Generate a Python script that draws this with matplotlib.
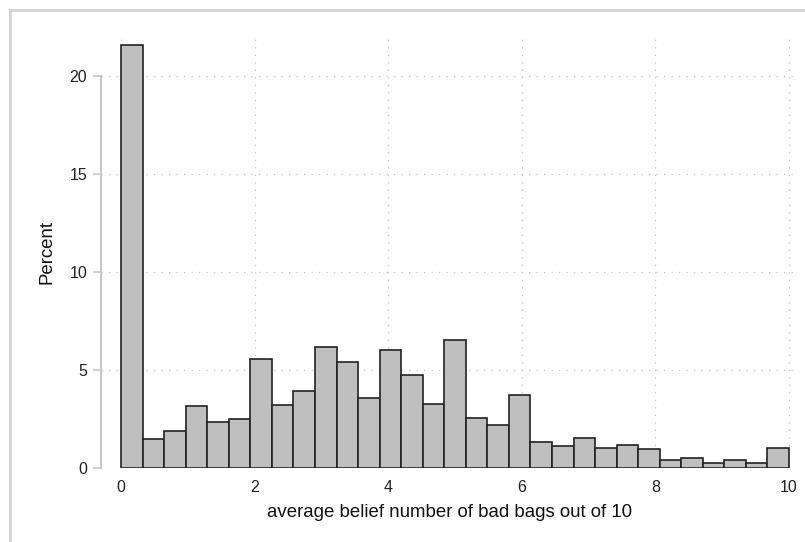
import matplotlib
matplotlib.use("Agg")
import matplotlib.pyplot as plt
from matplotlib.lines import Line2D
import numpy as np

# histogram: 31 bins over 0..10, percent per bin
BIN_START = 0.0
BIN_END = 10.0
PERCENTS = [21.6, 1.49, 1.90, 3.16, 2.36, 2.48, 5.56, 3.19, 3.91, 6.17, 5.42,
            3.57, 6.02, 4.74, 3.27, 6.53, 2.53, 2.17, 3.70, 1.33, 1.10, 1.55,
            1.02, 1.15, 0.97, 0.41, 0.53, 0.26, 0.41, 0.26, 1.00]
X_TICKS = [0, 2, 4, 6, 8, 10]
Y_TICKS = [0, 5, 10, 15, 20]
X_LABEL = "average belief number of bad bags out of 10"
Y_LABEL = "Percent"

plt.rcParams["font.family"] = ["Liberation Sans", "DejaVu Sans"]

W, H = 805, 542
fig = plt.figure(figsize=(W / 100, H / 100), dpi=100)

# screenshot-style frame at top / left
fig.add_artist(Line2D([10 / W, 10 / W], [0, 1 - 10 / H], transform=fig.transFigure,
                      color="#d4d4d4", lw=2))
fig.add_artist(Line2D([10 / W, 1], [1 - 10 / H, 1 - 10 / H], transform=fig.transFigure,
                      color="#d4d4d4", lw=2))

ax = fig.add_axes([101 / W, (H - 468) / H, (798 - 101) / W, (468 - 36.8) / H])

n = len(PERCENTS)
edges = np.linspace(BIN_START, BIN_END, n + 1)
width = edges[1] - edges[0]
ax.bar(edges[:-1], PERCENTS, width=width, align="edge", color="#bfbfbf",
       edgecolor="#222222", linewidth=1.2, zorder=3)

ax.set_xlim(-0.3, 10.135)
ax.set_ylim(0, 22)
ax.set_xticks(X_TICKS)
ax.set_yticks(Y_TICKS)

grid_kw = dict(color="#c4c4c4", lw=0.9, ls=(0, (1, 5)), zorder=1)
for y in Y_TICKS:
    ax.axhline(y, **grid_kw)
for x in X_TICKS:
    ax.axvline(x, **grid_kw)

for side in ("top", "right", "bottom"):
    ax.spines[side].set_visible(False)
ax.spines["left"].set_color("#c8c8c8")
ax.spines["left"].set_linewidth(1.5)
ax.spines["left"].set_bounds(0, 20)

ax.tick_params(axis="y", length=6, width=1.2, color="#c8c8c8", labelsize=11.5,
               labelcolor="#222222", pad=4)
ax.tick_params(axis="x", length=0, labelsize=11.5, labelcolor="#222222", pad=9)

ax.set_xlabel(X_LABEL, fontsize=13.4, color="#111111", labelpad=6)
ax.set_ylabel(Y_LABEL, fontsize=13.4, color="#111111", labelpad=10)

fig.savefig("out.png", dpi=100, facecolor="white")
